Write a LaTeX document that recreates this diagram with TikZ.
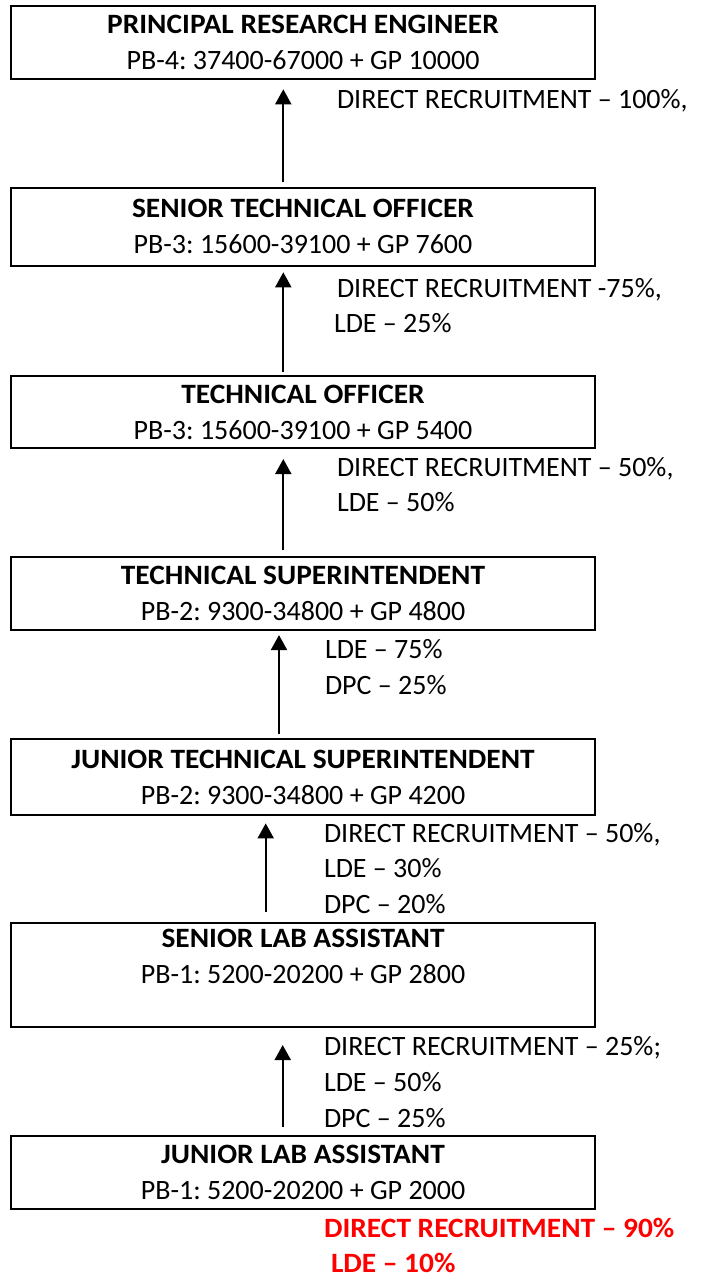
\documentclass[tikz,border=0pt]{standalone}
\usepackage{fontspec}
\setmainfont{Carlito}[BoldFeatures={FakeStretch=1.05}]
\usetikzlibrary{arrows.meta}
\frenchspacing
\begin{document}
\begin{tikzpicture}[x=1pt,y=-1pt,
  post/.style={draw,line width=2pt,rectangle,minimum width=584pt,
    inner sep=0pt,outer sep=0pt,align=center,
    font=\fontsize{28}{36}\selectfont},
  route/.style={anchor=base west,inner sep=0pt,outer sep=0pt,
    font=\fontsize{28}{34}\selectfont},
  direct/.style={route,text=red,font=\fontsize{28}{34}\selectfont\bfseries},
  up/.style={-{Triangle[width=16pt,length=15pt]},line width=2pt}]
\useasboundingbox (0,0) rectangle (705,1277);

% posts, top to bottom
\node[post,minimum height=73pt] (pre) at (303,42.2)
  {\textbf{PRINCIPAL RESEARCH ENGINEER}\\PB-4: 37400-67000 + GP 10000};
\node[post,minimum height=78pt] (sto) at (303,226.7)
  {\textbf{SENIOR TECHNICAL OFFICER}\\PB-3: 15600-39100 + GP 7600};
\node[post,minimum height=72.3pt] (to) at (303,412.2)
  {\textbf{TECHNICAL OFFICER}\\PB-3: 15600-39100 + GP 5400};
\node[post,minimum height=72.7pt] (ts) at (303,593.7)
  {\textbf{TECHNICAL SUPERINTENDENT}\\PB-2: 9300-34800 + GP 4800};
\node[post,minimum height=75.7pt] (jts) at (303,777.2)
  {\textbf{JUNIOR TECHNICAL SUPERINTENDENT}\\PB-2: 9300-34800 + GP 4200};
\node[post,minimum height=104pt] (sla) at (303,974.7)
  {\textbf{SENIOR LAB ASSISTANT}\\PB-1: 5200-20200 + GP 2800\\\mbox{}};
\node[post,minimum height=73.3pt] (jla) at (303,1172.4)
  {\textbf{JUNIOR LAB ASSISTANT}\\PB-1: 5200-20200 + GP 2000};

% promotion arrows
\draw[up,shorten <=6pt,shorten >=10.6pt] ([xshift=-19.7pt]sto.north) -- ([xshift=-19.7pt]pre.south);
\draw[up,shorten <=3.7pt,shorten >=6.6pt] ([xshift=-19.7pt]to.north) -- ([xshift=-19.7pt]sto.south);
\draw[up,shorten <=7.3pt,shorten >=10.7pt] ([xshift=-19.7pt]ts.north) -- ([xshift=-19.7pt]to.south);
\draw[up,shorten <=5.3pt,shorten >=5pt] ([xshift=-24pt]jts.north) -- ([xshift=-24pt]ts.south);
\draw[up,shorten <=10.4pt,shorten >=8.3pt] ([xshift=-37.3pt]sla.north) -- ([xshift=-37.3pt]jts.south);
\draw[up,shorten <=9pt,shorten >=18.3pt] ([xshift=-20.3pt]jla.north) -- ([xshift=-20.3pt]sla.south);

% recruitment shares
\node[route] (r1a) at (337,108) {DIRECT RECRUITMENT -- 100\%,};
\node[route] (r2a) at (337,297) {DIRECT RECRUITMENT -75\%,};
\node[route] (r2b) at (334,332) {LDE -- 25\%};
\node[route] (r3a) at (337,476) {DIRECT RECRUITMENT -- 50\%,};
\node[route] (r3b) at (337,511) {LDE -- 50\%};
\node[route] (r4a) at (325,658) {LDE -- 75\%};
\node[route] (r4b) at (325,694) {DPC -- 25\%};
\node[route] (r5a) at (324,842) {DIRECT RECRUITMENT -- 50\%,};
\node[route] (r5b) at (324,877) {LDE -- 30\%};
\node[route] (r5c) at (324,913) {DPC -- 20\%};
\node[route] (r6a) at (324,1055) {DIRECT RECRUITMENT -- 25\%;};
\node[route] (r6b) at (324,1091) {LDE -- 50\%};
\node[route] (r6c) at (324,1127) {DPC -- 25\%};
\node[direct] (r7a) at (324,1237) {DIRECT RECRUITMENT -- 90\%};
\node[direct] (r7b) at (331,1272) {LDE -- 10\%};
\end{tikzpicture}
\end{document}
